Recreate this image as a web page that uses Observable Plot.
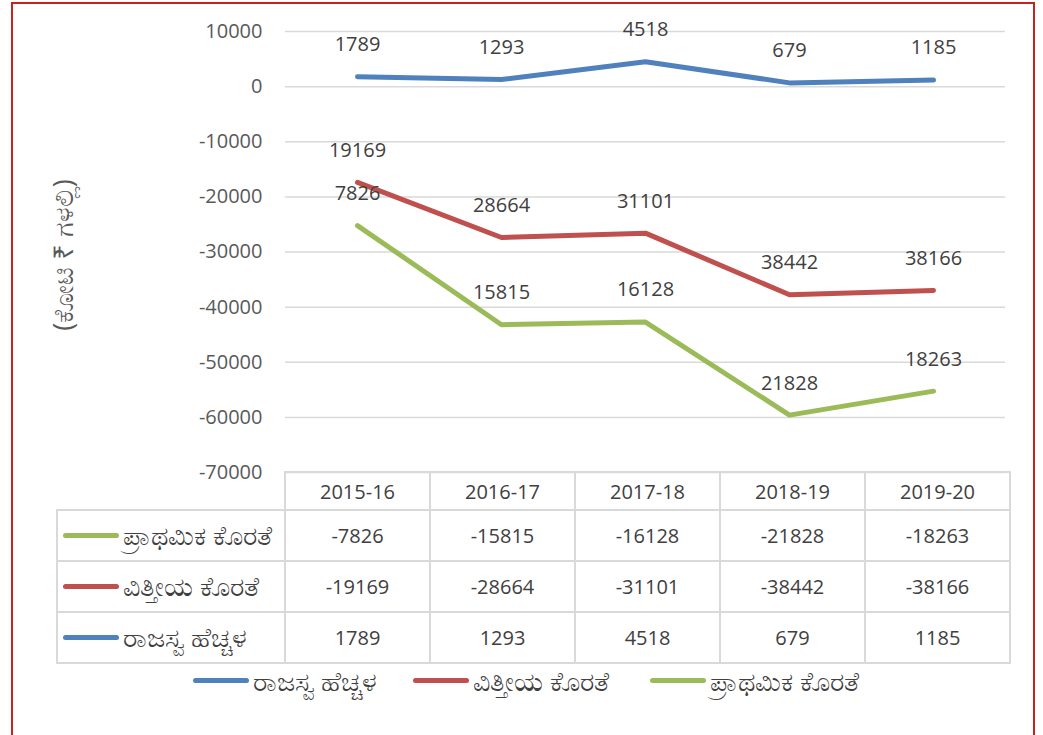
<!DOCTYPE html>
<html><head><meta charset="utf-8">
<script src="https://cdn.jsdelivr.net/npm/d3@7"></script>
<script src="https://cdn.jsdelivr.net/npm/@observablehq/plot@0.6"></script>
<style>
body{margin:0;background:#fff;}
#wrap{position:relative;width:1043px;height:735px;overflow:hidden;font-family:"Open Sans","Noto Sans",sans-serif;color:#595959;}
#frame{position:absolute;left:11px;top:2px;width:1020px;height:800px;border:2px solid #c9211e;}
#chart{position:absolute;left:0;top:0;}
#ylab{position:absolute;left:62px;top:255px;transform:translate(-50%,-50%) rotate(-90deg);white-space:nowrap;font-size:27px;color:#595959;}
table{position:absolute;left:56px;top:471px;border-collapse:collapse;font-size:20px;color:#404040;}
td{border:2px solid #d9d9d9;text-align:center;padding:0;}
td.lab{text-align:left;position:relative;padding-left:65px;color:#404040;}
.kn{font-size:27px;line-height:1;}
.sw{display:inline-block;width:56px;height:5px;border-radius:3px;}
td.lab .sw{position:absolute;left:5px;top:50%;margin-top:-3px;}
.leg{position:absolute;top:666px;height:28px;color:#404040;white-space:nowrap;display:flex;align-items:center;}
.leg .sw{margin-right:4px;}
</style></head><body><div id="wrap"><div id="frame"></div><div id="chart"></div><div id="ylab"></div></div>
<script>
const years = ["2015-16","2016-17","2017-18","2018-19","2019-20"];
const revenueSurplus = [1789,1293,4518,679,1185];
const fiscalDeficit = [-19169,-28664,-31101,-38442,-38166];
const primaryDeficit = [-7826,-15815,-16128,-21828,-18263];
const seriesNames = ["ರಾಜಸ್ವ ಹೆಚ್ಚಳ","ವಿತ್ತೀಯ ಕೊರತೆ","ಪ್ರಾಥಮಿಕ ಕೊರತೆ"];
const seriesColors = ["#4f81bd","#c0504d","#9bbb59"];
const yTicks = [10000,0,-10000,-20000,-30000,-40000,-50000,-60000,-70000];
const yLabel = "(ಕೋಟಿ ₹ ಗಳಲ್ಲಿ)";

// stacked line chart (as in the source): each series stacked on the previous
const seriesValues = [revenueSurplus, fiscalDeficit, primaryDeficit];
const rows = [];
years.forEach((yr,i)=>{
  let cum = 0;
  seriesValues.forEach((vals,s)=>{
    cum += vals[i];
    rows.push({year:yr, series:seriesNames[s], value:vals[i], stacked:cum});
  });
});

const chart = Plot.plot({
  width:1043, height:473, marginTop:31, marginBottom:1, marginLeft:285, marginRight:38,
  style:{fontFamily:'"Open Sans","Noto Sans",sans-serif', fontSize:"20px", color:"#595959", background:"transparent", overflow:"visible"},
  x:{type:"point", domain:years, padding:0.5, axis:null},
  y:{domain:[-70000,10000], label:null},
  color:{domain:seriesNames, range:seriesColors},
  marks:[
    Plot.gridY(yTicks,{stroke:"#d9d9d9", strokeOpacity:1, strokeWidth:1.5}),
    Plot.axisY(yTicks,{tickSize:0, tickPadding:23, fontSize:20, label:null, tickFormat:d=>String(d), fill:"#595959"}),
    Plot.line(rows,{x:"year", y:"stacked", z:"series", stroke:"series", strokeWidth:5, strokeLinecap:"round", strokeLinejoin:"round"}),
    Plot.text(rows,{x:"year", y:"stacked", text:d=>String(Math.abs(d.value)), dy:-32, fill:"#404040", fontSize:20})
  ]
});
document.getElementById("chart").appendChild(chart);
document.getElementById("ylab").textContent = yLabel;

// data table
const wrap = d3.select("#wrap");
const table = wrap.append("table");
const head = table.append("tr").style("height","38px");
head.append("td").style("width","227px").style("border-top","none").style("border-left","none");
years.forEach(y=>head.append("td").style("width","143px").text(y));
[[2,primaryDeficit],[1,fiscalDeficit],[0,revenueSurplus]].forEach(([s,vals])=>{
  const tr = table.append("tr").style("height","51px");
  const lab = tr.append("td").attr("class","lab");
  lab.append("span").attr("class","sw").style("background",seriesColors[s]);
  lab.append("span").attr("class","kn").text(seriesNames[s]);
  vals.forEach(v=>tr.append("td").text(String(v)));
});

// legend
const legX = [193,413,650];
seriesNames.forEach((n,s)=>{
  const it = wrap.append("div").attr("class","leg").style("left",legX[s]+"px");
  it.append("span").attr("class","sw").style("background",seriesColors[s]);
  it.append("span").attr("class","kn").text(n);
});
</script></body></html>
